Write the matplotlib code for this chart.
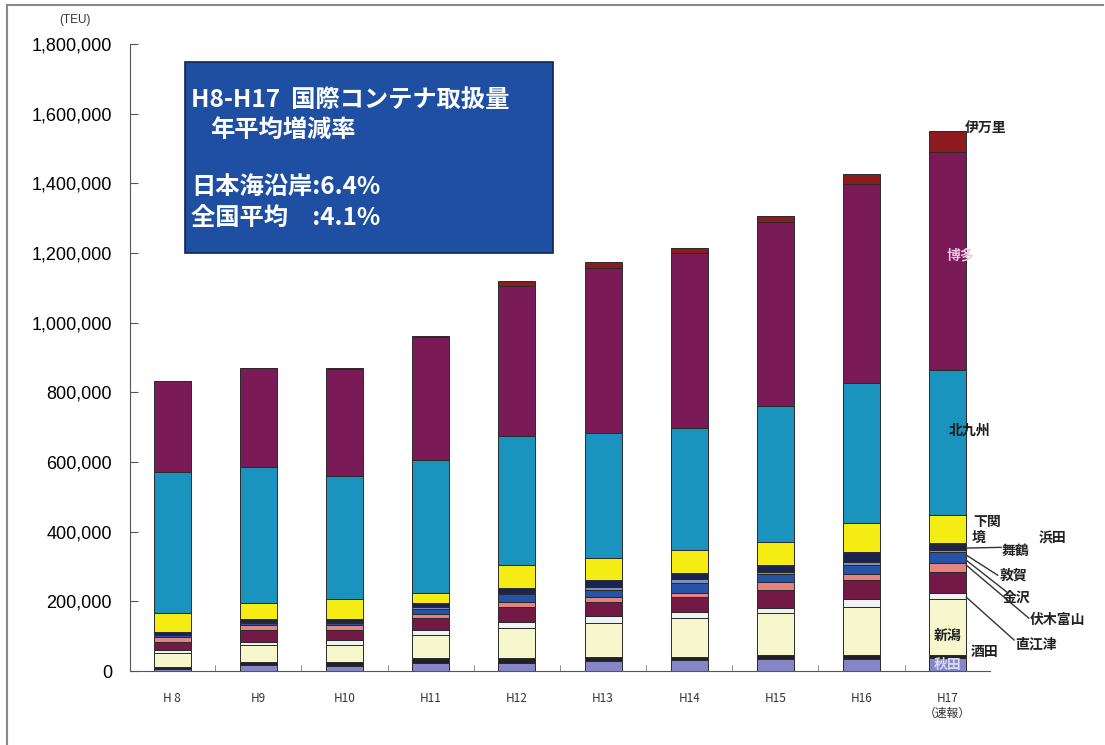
import numpy as np
import matplotlib
matplotlib.use("Agg")
import matplotlib.pyplot as plt
from matplotlib.patches import Rectangle
from matplotlib.lines import Line2D

plt.rcParams['font.family'] = ['Noto Sans CJK JP', 'DejaVu Sans']

# years (x categories)
years = ['H 8', 'H9', 'H10', 'H11', 'H12', 'H13', 'H14', 'H15', 'H16', 'H17\n（速報）']

# ports, stacked from bottom to top (TEU)
ports = ['秋田', '酒田', '新潟', '直江津', '伏木富山', '金沢', '敦賀', '舞鶴',
         '境', '浜田', '下関', '北九州', '博多', '伊万里']
akita    = [6000, 17000, 13000, 23000, 23000, 29000, 32000, 34000, 34000, 37000]
sakata   = [5000, 9000, 12000, 14000, 14000, 11000, 8000, 12000, 12000, 9000]
niigata  = [41000, 49000, 51000, 66000, 86000, 98000, 112000, 120000, 137000, 160000]
naoetsu  = [8000, 8000, 12000, 15000, 17000, 20000, 17000, 15000, 23000, 18000]
fushiki  = [23000, 34000, 29000, 34000, 43000, 40000, 43000, 51000, 55000, 60000]
kanazawa = [14000, 15000, 15000, 11000, 15000, 14000, 12000, 23000, 17000, 26000]
tsuruga  = [5000, 5000, 5000, 16000, 22000, 20000, 28000, 23000, 26000, 31000]
maizuru  = [2000, 3000, 3000, 4000, 4000, 9000, 12000, 6000, 8000, 6000]
sakai    = [7000, 8000, 8000, 11000, 13000, 19000, 16000, 19000, 28000, 19000]
hamada   = [1000, 1000, 1000, 1000, 1000, 1000, 1000, 1000, 1000, 1000]
shimonoseki = [54000, 46000, 57000, 29000, 66000, 63000, 66000, 66000, 83000, 80000]
kitakyushu  = [404000, 390000, 353000, 381000, 372000, 358000, 352000, 392000, 404000, 418000]
hakata      = [262000, 284000, 308000, 353000, 430000, 476000, 501000, 528000, 571000, 625000]
imari       = [2000, 2000, 2000, 5000, 14000, 17000, 15000, 17000, 28000, 60000]

series = [akita, sakata, niigata, naoetsu, fushiki, kanazawa, tsuruga, maizuru,
          sakai, hamada, shimonoseki, kitakyushu, hakata, imari]
colors = ['#8585c8', '#222222', '#f6f7cd', '#eef3f3', '#741846', '#e68282',
          '#2554a6', '#7f8fb8', '#1b2352', '#111111', '#f4ec12', '#1a93bf',
          '#7a1a57', '#8e1b20']

fig = plt.figure(figsize=(11.05, 7.45), dpi=100)
ax = fig.add_axes([0.1176, 0.0993, 0.7783, 0.8416])

x = np.arange(len(years))
bottom = np.zeros(len(years))
cum = {}
for name, vals, c in zip(ports, series, colors):
    vals = np.array(vals, dtype=float)
    ax.bar(x, vals, 0.43, bottom=bottom, color=c, edgecolor='#2a2a2a', linewidth=0.7)
    cum[name] = (bottom[-1], bottom[-1] + vals[-1])
    bottom = bottom + vals

ax.set_xlim(-0.49, 9.49)
ax.set_ylim(0, 1800000)
ax.set_yticks(np.arange(0, 1800001, 200000))
ax.set_yticklabels(['{:,}'.format(v) for v in range(0, 1800001, 200000)],
                   family='Liberation Sans', fontsize=13)
ax.tick_params(axis='y', direction='in', length=6, pad=13, color='#555555')
ax.set_xticks(x)
ax.set_xticklabels(years, fontsize=8.5, color='#333333')
ax.tick_params(axis='x', length=0, pad=15)
ax.set_xticks(np.arange(0.5, 9, 1), minor=True)
ax.tick_params(axis='x', which='minor', direction='in', length=4, color='#777777')
for s in ['top', 'right']:
    ax.spines[s].set_visible(False)
ax.spines['left'].set_color('#555555')
ax.spines['bottom'].set_color('#555555')

fig.text(75 / 1105, 1 - 20 / 745, '(TEU)', fontsize=8.5, ha='center', va='center',
         family='Liberation Sans', color='#333333')

# summary box
fig.patches.append(Rectangle((185 / 1105, 1 - 253 / 745), 368 / 1105, 191 / 745,
                             transform=fig.transFigure, facecolor='#1e4fa2',
                             edgecolor='#0e2550', linewidth=1.2))
box_kw = dict(color='white', fontsize=17.5, fontweight='bold', va='center', ha='left')
fig.text(191 / 1105, 1 - 100 / 745, 'H8-H17  国際コンテナ取扱量', **box_kw)
fig.text(210 / 1105, 1 - 130 / 745, '年平均増減率', **box_kw)
fig.text(191 / 1105, 1 - 187 / 745, '日本海沿岸:6.4%', **box_kw)
fig.text(191 / 1105, 1 - 218 / 745, '全国平均　:4.1%', **box_kw)

# port labels next to H17 bar
lab = dict(fontsize=10, fontweight='bold', va='center', clip_on=False)
ax.text(9.44, 1559000, '伊万里', ha='center', color='#222222', **lab)
ax.text(9.15, 1192000, '博多', ha='center', color='#f2c6e6', **lab)
ax.text(9.25, 691000, '北九州', ha='center', color='#1a1a1a', **lab)
ax.text(9.30, 427000, '下関', ha='left', color='#222222', **lab)
ax.text(9.28, 381000, '境', ha='left', color='#222222', **lab)
ax.text(10.05, 381000, '浜田', ha='left', color='#222222', **lab)
ax.text(9.63, 345000, '舞鶴', ha='left', color='#222222', **lab)
ax.text(9.60, 273000, '敦賀', ha='left', color='#222222', **lab)
ax.text(9.64, 212000, '金沢', ha='left', color='#222222', **lab)
ax.text(9.95, 148000, '伏木富山', ha='left', color='#222222', **lab)
ax.text(9.78, 76000, '直江津', ha='left', color='#222222', **lab)
ax.text(9.0, np.mean(cum['新潟']) - 25000, '新潟', ha='center', color='#222222', **lab)
ax.text(9.27, 54000, '酒田', ha='left', color='#222222', **lab)
ax.text(9.0, np.mean(cum['秋田']), '秋田', ha='center', color='#d8d8f4', **lab)

leaders = [('舞鶴', (9.62, 355000)), ('敦賀', (9.58, 275000)),
           ('金沢', (9.70, 224000)), ('伏木富山', (9.94, 152000)),
           ('直江津', (9.77, 89000))]
starts = [cum['境'][0] + 6000, cum['舞鶴'][0] - 8000, cum['敦賀'][0] + 8000,
          cum['敦賀'][0] - 6000, cum['直江津'][0] + 6000]
for (name, end), y0 in zip(leaders, starts):
    ax.add_line(Line2D([9.215, end[0]], [y0, end[1]], color='#333333',
                       linewidth=1.0, clip_on=False))

# scan frame
fig.add_artist(Line2D([7 / 1105, 1103 / 1105], [1 - 5 / 745, 1 - 5 / 745],
                      color='#888888', linewidth=1.5))
fig.add_artist(Line2D([7 / 1105, 7 / 1105], [1 - 5 / 745, 0], color='#888888',
                      linewidth=1.5))

fig.savefig('out.png', dpi=100)
